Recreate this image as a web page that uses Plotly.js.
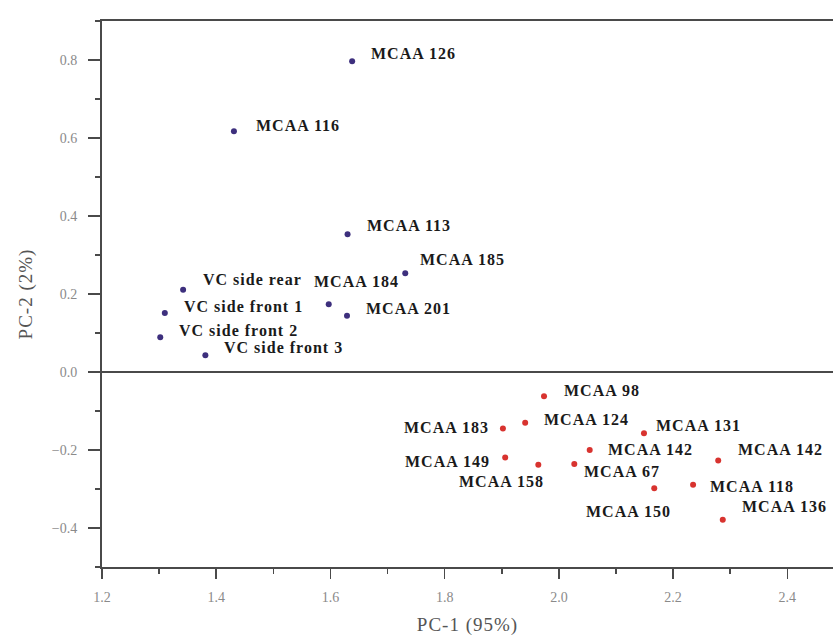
<!DOCTYPE html>
<html>
<head>
<meta charset="utf-8">
<script src="https://cdn.plot.ly/plotly-3.0.1.min.js"></script>
<style>
  html, body { margin: 0; padding: 0; background: #fff; }
  #chart { width: 835px; height: 642px; }
  .annotation-text { letter-spacing: 1px; }
  .g-xtitle text, .g-ytitle text { letter-spacing: 1px; }
</style>
</head>
<body>
<div id="chart"></div>
<script>
// ---- data ----
const upperNames = ["MCAA 126", "MCAA 116", "MCAA 113", "MCAA 185", "VC side rear",
                    "MCAA 184", "VC side front 1", "MCAA 201", "VC side front 2", "VC side front 3"];
const upperPC1 = [1.638, 1.431, 1.630, 1.731, 1.342, 1.597, 1.310, 1.629, 1.302, 1.381];
const upperPC2 = [0.797, 0.617, 0.353, 0.253, 0.211, 0.174, 0.151, 0.144, 0.089, 0.043];

const lowerNames = ["MCAA 98", "MCAA 124", "MCAA 183", "MCAA 131", "MCAA 142", "MCAA 142",
                    "MCAA 149", "MCAA 158", "MCAA 67", "MCAA 150", "MCAA 118", "MCAA 136"];
const lowerPC1 = [1.974, 1.941, 1.902, 2.149, 2.054, 2.279, 1.906, 1.964, 2.027, 2.167, 2.235, 2.287];
const lowerPC2 = [-0.062, -0.130, -0.145, -0.157, -0.200, -0.227, -0.219, -0.238, -0.236, -0.298, -0.289, -0.379];

const xTitle = "PC-1 (95%)";
const yTitle = "PC-2 (2%)";

// ---- label placement (style only: anchor and pixel offsets) ----
const upperLabelStyle = [
  ["left", 17, 8], ["left", 20, 6], ["left", 17, 9], ["left", 13, 14], ["left", 18, 10],
  ["left", -17, 23], ["left", 17, 7], ["left", 17, 7], ["left", 17, 7], ["left", 17, 8]
];
const lowerLabelStyle = [
  ["left", 18, 6], ["left", 17, 3], ["right", -12, 1], ["left", 10, 8], ["left", 16, 1],
  ["left", 18, 11], ["right", -13, -4], ["right", 8, -17], ["left", 8, -7], ["center", -26, -23],
  ["left", 15, -2], ["left", 17, 13]
];

const labelFont = { family: "Liberation Serif, Times New Roman, serif", size: 16, color: "#1a1a1a", weight: "bold" };

function makeLabels(names, xs, ys, styles) {
  return names.map((n, i) => ({
    x: xs[i], y: ys[i], xref: "x", yref: "y",
    text: "<b>" + n + "</b>", showarrow: false,
    xanchor: styles[i][0], yanchor: "middle",
    xshift: styles[i][1], yshift: styles[i][2],
    font: labelFont
  }));
}

const traces = [
  {
    type: "scatter", mode: "markers", name: "upper",
    x: upperPC1, y: upperPC2, text: upperNames,
    marker: { color: "#3d2f7d", size: 6 },
    hoverinfo: "text+x+y"
  },
  {
    type: "scatter", mode: "markers", name: "lower",
    x: lowerPC1, y: lowerPC2, text: lowerNames,
    marker: { color: "#d8332f", size: 6 },
    hoverinfo: "text+x+y"
  }
];

const tickFont = { family: "Liberation Serif, Times New Roman, serif", size: 14, color: "#8a8a8a" };
const titleFont = { family: "Liberation Serif, Times New Roman, serif", size: 19, color: "#555" };

const layout = {
  width: 835, height: 642,
  margin: { l: 102, r: 2, t: 21, b: 75 },
  paper_bgcolor: "#fff", plot_bgcolor: "#fff",
  showlegend: false,
  xaxis: {
    range: [1.2, 2.48], dtick: 0.2, tick0: 1.2, tickformat: ".1f",
    showgrid: false, zeroline: false,
    showline: true, linecolor: "#4a4a4a", linewidth: 2, mirror: true,
    ticks: "outside", ticklen: 10, tickwidth: 1.5, tickcolor: "#4a4a4a",
    ticklabelstandoff: 6,
    minor: { dtick: 0.1, ticks: "outside", ticklen: 5, tickcolor: "#4a4a4a", tickwidth: 1.5, showgrid: false },
    tickfont: tickFont,
    title: { text: xTitle, font: titleFont, standoff: 14 }
  },
  yaxis: {
    range: [-0.5, 0.9], dtick: 0.2, tick0: 0, tickformat: ".1f",
    showgrid: false, zeroline: true, zerolinecolor: "#4a4a4a", zerolinewidth: 2,
    showline: true, linecolor: "#4a4a4a", linewidth: 2, mirror: false,
    ticks: "outside", ticklen: 12, tickwidth: 1.5, tickcolor: "#4a4a4a",
    ticklabelstandoff: 8,
    minor: { dtick: 0.1, ticks: "outside", ticklen: 5, tickcolor: "#4a4a4a", tickwidth: 1.5, showgrid: false },
    tickfont: tickFont,
    title: { text: yTitle, font: titleFont, standoff: 14 }
  },
  annotations: makeLabels(upperNames, upperPC1, upperPC2, upperLabelStyle)
    .concat(makeLabels(lowerNames, lowerPC1, lowerPC2, lowerLabelStyle))
};

Plotly.newPlot("chart", traces, layout, { displayModeBar: false, staticPlot: true });
</script>
</body>
</html>
